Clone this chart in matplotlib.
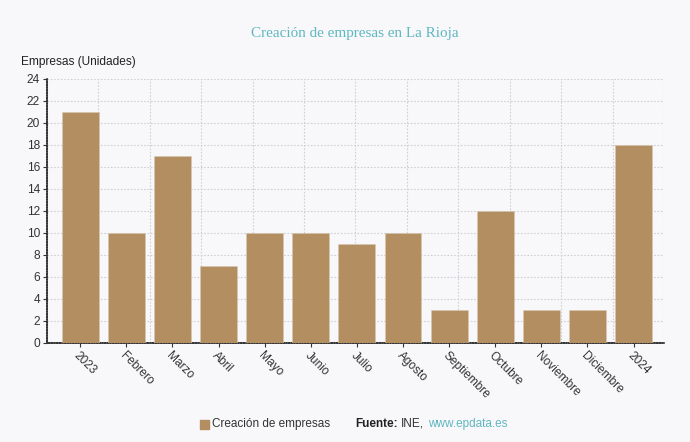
import matplotlib
matplotlib.use("Agg")
import matplotlib.pyplot as plt
import numpy as np

categories = ["2023", "Febrero", "Marzo", "Abril", "Mayo", "Junio", "Julio",
              "Agosto", "Septiembre", "Octubre", "Noviembre", "Diciembre", "2024"]
values = [21, 10, 17, 7, 10, 10, 9, 10, 3, 12, 3, 3, 18]
y_ticks = list(range(0, 25, 2))

BG = "#f8f8fa"
BAR = "#b28e61"
TEAL = "#5fb7c1"
TXT = "#333333"

plt.rcParams["font.family"] = ["Liberation Sans", "DejaVu Sans"]

fig = plt.figure(figsize=(6.9, 4.42), dpi=100, facecolor=BG)
ax = fig.add_axes([47 / 690, 1 - 342.5 / 442, 617 / 690, 264 / 442], facecolor=BG)

x = np.arange(len(categories))
ax.bar(x, values, width=0.8, color=BAR, edgecolor="#d9c9b0", linewidth=0.4, zorder=3)

xmin, xmax = -0.72, 12.66
ax.set_xlim(xmin, xmax)
ax.set_ylim(0, 24)
ax.set_yticks(y_ticks)
ax.set_yticklabels([str(t) for t in y_ticks], fontsize=8.6, color=TXT)
ax.set_xticks(x)
ax.set_xticklabels(categories, rotation=-45, ha="left", va="top",
                   rotation_mode="anchor", fontsize=8.6, color=TXT)

# vertical grid in 12 even divisions, independent of the categories
ax.set_xticks(np.linspace(xmin, xmax, 13), minor=True)
ax.tick_params(axis="x", which="minor", length=0)
ax.grid(True, axis="y", which="major", color="#cfcfd4", linestyle=(0, (1.5, 1.5)), linewidth=0.8, zorder=0)
ax.grid(True, axis="x", which="minor", color="#cfcfd4", linestyle=(0, (1.5, 1.5)), linewidth=0.8, zorder=0)
ax.grid(False, axis="x", which="major")

for s in ("top", "right"):
    ax.spines[s].set_visible(False)
for s in ("left", "bottom"):
    ax.spines[s].set_color("#333333")
    ax.spines[s].set_linewidth(1.2)
    ax.spines[s].set_linestyle((0, (1, 0.6)))
ax.tick_params(axis="both", which="major", length=3, width=0.8, color="#333333", pad=2)

fig.text(355 / 690, 1 - 33 / 442, "Creación de empresas en La Rioja",
         ha="center", va="center", fontsize=10.9, color=TEAL, family="Liberation Serif")
fig.text(21 / 690, 1 - 62 / 442, "Empresas (Unidades)", ha="left", va="center",
         fontsize=8.6, color="#222222")

# legend / source row
ly = 1 - 424 / 442
fig.patches.append(plt.Rectangle((200 / 690, ly - 4.5 / 442), 9 / 690, 9 / 442,
                                 transform=fig.transFigure, color=BAR, figure=fig))
fig.text(212 / 690, ly, "Creación de empresas", ha="left", va="center", fontsize=8.5, color=TXT)

fig.canvas.draw()
r = fig.canvas.get_renderer()
t1 = fig.text(355 / 690, ly, "Fuente:", ha="left", va="center", fontsize=8.5,
              color="#222222", weight="bold")
x1 = t1.get_window_extent(r).x1 / 690 + 3 / 690
t2 = fig.text(x1, ly, "INE,", ha="left", va="center", fontsize=8.5, color=TXT)
x2 = t2.get_window_extent(r).x1 / 690 + 4 / 690
fig.text(x2, ly, "www.epdata.es", ha="left", va="center", fontsize=8.5, color=TEAL)

fig.savefig("out.png", dpi=100, facecolor=BG)
